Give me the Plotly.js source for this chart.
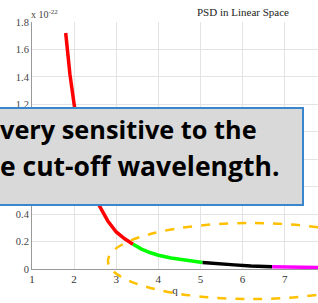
<!DOCTYPE html>
<html><head><meta charset="utf-8">
<script src="https://cdn.plot.ly/plotly-3.0.1.min.js"></script>
<style>html,body{margin:0;padding:0;background:#fff;}#c{width:318px;height:303px;}</style>
</head><body><div id="c"></div>
<script>
// Data (PSD values in units of 1e-22)
var qRed = [1.8, 1.9, 2.0, 2.1, 2.2, 2.4, 2.6, 2.8, 3.0, 3.2, 3.4];
var yRed = [1.72, 1.42, 1.20, 1.01, 0.86, 0.63, 0.46, 0.35, 0.27, 0.22, 0.18];
var qGreen = [3.4, 3.6, 3.8, 4.0, 4.3, 4.6, 5.05];
var yGreen = [0.18, 0.145, 0.12, 0.10, 0.08, 0.065, 0.048];
var qBlack = [5.05, 5.4, 5.8, 6.2, 6.7];
var yBlack = [0.048, 0.038, 0.030, 0.022, 0.016];
var qMag = [6.7, 7.2, 7.8];
var yMag = [0.016, 0.013, 0.011];
var xTicks = [1, 2, 3, 4, 5, 6, 7];
var yTicks = [0, 0.2, 0.4, 0.6, 0.8, 1, 1.2, 1.4, 1.6, 1.8];
// labels 0.6, 0.8 and 1 are hidden behind the callout box in the reference
var yTickText = ['0', '0.2', '0.4', '', '', '', '1.2', '1.4', '1.6', '1.8'];
var calloutLines = ['very sensitive to the', 'e cut-off wavelength.'];

function seg(x, y, c) {
  return {x: x, y: y, mode: 'lines', type: 'scatter', line: {color: c, width: 3.5}, hoverinfo: 'skip', cliponaxis: true};
}
var data = [seg(qRed, yRed, '#ff0000'), seg(qGreen, yGreen, '#00ff00'), seg(qBlack, yBlack, '#000000'), seg(qMag, yMag, '#ff00ff')];

var W = 318, H = 303, L = 32, R = 0, T = 22, B = 34;
function px(x) { return (x - L) / (W - L - R); }
function py(y) { return (H - B - y) / (H - T - B); }
var serif = 'Liberation Serif, Times New Roman, serif';
function cf(s) { return {family: 'Open Sans, sans-serif', size: s, color: '#000', weight: 'bold'}; }

var layout = {
  width: W, height: H,
  margin: {l: L, r: R, t: T, b: B, pad: 0},
  paper_bgcolor: '#fff', plot_bgcolor: '#fff',
  showlegend: false,
  xaxis: {range: [1, 7.79], tickvals: xTicks, ticktext: xTicks.map(String),
    showgrid: true, gridcolor: '#e3e3e3', gridwidth: 1, zeroline: false,
    showline: true, linecolor: '#999', linewidth: 1, ticks: '',
    tickfont: {family: serif, size: 11, color: '#333'},
    title: {text: 'q', font: {family: serif, size: 11, color: '#333'}, standoff: 2}},
  yaxis: {range: [0, 1.8], tickvals: yTicks, ticktext: yTickText,
    showgrid: true, gridcolor: '#e3e3e3', gridwidth: 1, zeroline: false,
    showline: true, linecolor: '#999', linewidth: 1, ticks: '',
    tickfont: {family: serif, size: 10.5, color: '#444'}},
  shapes: [
    {type: 'circle', xref: 'paper', yref: 'paper', layer: 'above',
     x0: px(108), x1: px(395), y0: py(299), y1: py(223),
     line: {color: '#ffc000', width: 2.5, dash: 'dash'}, fillcolor: 'rgba(0,0,0,0)'},
    {type: 'rect', xref: 'paper', yref: 'paper', layer: 'above',
     x0: px(-10), x1: px(303), y0: py(205), y1: py(108),
     fillcolor: '#d9d9d9', line: {color: '#3a86cc', width: 2}}
  ],
  annotations: [
    {xref: 'paper', yref: 'paper', x: px(243), y: py(12), xanchor: 'center', yanchor: 'middle',
     text: 'PSD in Linear Space', showarrow: false, font: {family: serif, size: 11, color: '#222'}},
    {xref: 'paper', yref: 'paper', x: px(29), y: py(14), xanchor: 'left', yanchor: 'middle',
     text: 'x 10<sup>-22</sup>', showarrow: false, font: {family: serif, size: 10, color: '#444'}},
    {xref: 'paper', yref: 'paper', x: px(259), y: py(129), xanchor: 'right', yanchor: 'middle',
     text: calloutLines[0], showarrow: false, font: cf(25.3)},
    {xref: 'paper', yref: 'paper', x: px(281), y: py(166), xanchor: 'right', yanchor: 'middle',
     text: calloutLines[1], showarrow: false, font: cf(26.5)}
  ]
};
Plotly.newPlot('c', data, layout, {staticPlot: true, displayModeBar: false});
</script></body></html>
